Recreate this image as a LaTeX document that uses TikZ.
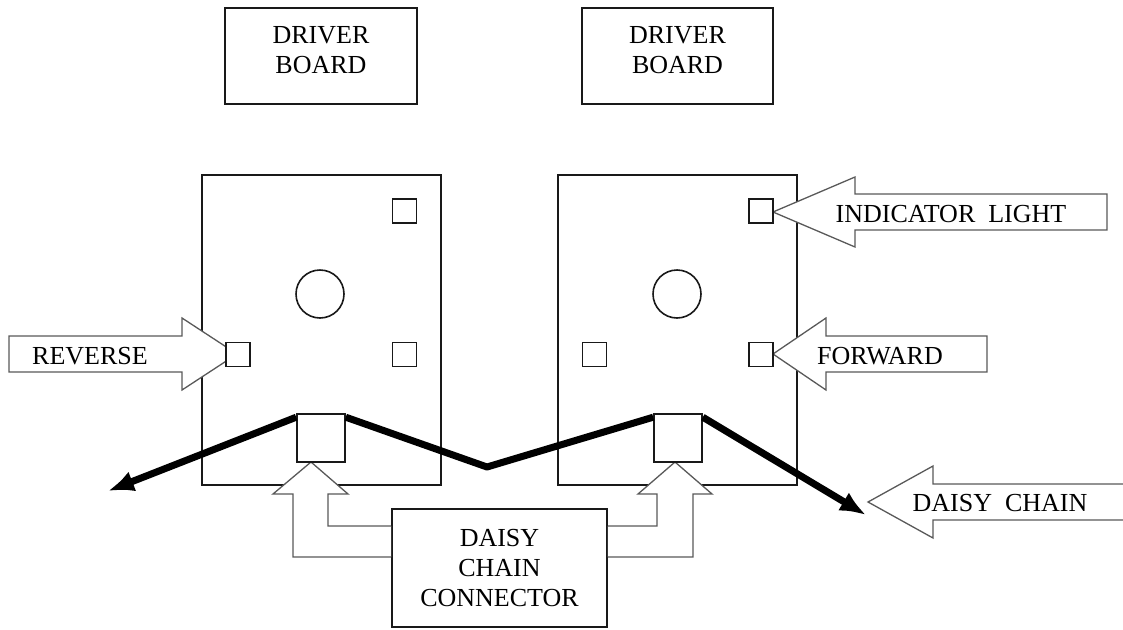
\documentclass[tikz,border=0pt]{standalone}
\usepackage{fontspec}
\setmainfont{Liberation Serif}
\usetikzlibrary{arrows.meta}
\begin{document}
\begin{tikzpicture}[x=1pt,y=-1pt,
  box/.style={draw=black!90,line width=1.6pt,inner sep=0pt},
  lbl/.style={font=\fontsize{26}{30}\selectfont,align=center,inner sep=0pt},
  sq/.style={box,minimum size=24pt,fill=white},
  conn/.style={box,minimum size=48pt,fill=white},
  blk/.style={draw=black!65,line width=1.3pt,fill=white,line join=miter},
  blkline/.style={draw=black!65,line width=1.3pt,line join=miter},
  chain/.style={line width=7pt,line join=round}]
\useasboundingbox (0,0) rectangle (1123,629);
\clip (0,0) rectangle (1123,629);
% driver board labels
\node[box,minimum width=192pt,minimum height=96pt] (dbL) at (321,56) {};
\node[lbl] (dbLt) at (321,50) {DRIVER\\BOARD};
\node[box,minimum width=191pt,minimum height=96pt] (dbR) at (677.5,56) {};
\node[lbl] (dbRt) at (677.5,50) {DRIVER\\BOARD};
% boards
\node[box,minimum width=239pt,minimum height=310pt] (bL) at (321.5,330) {};
\node[box,minimum width=239pt,minimum height=310pt] (bR) at (677.5,330) {};
\node[box,circle,minimum size=48pt] (cL) at (320,294) {};
\node[box,circle,minimum size=48pt] (cR) at (677,294) {};
% block arrows
\draw[blk] (9,336) -- (182,336) -- (182,318) -- (237,354) -- (182,390) -- (182,372) -- (9,372) -- cycle;
\node[lbl] (trev) at (90,356) {REVERSE};
\draw[blk] (1107,194) -- (855,194) -- (855,177) -- (773,212) -- (855,247) -- (855,230) -- (1107,230) -- cycle;
\node[lbl] (tind) at (951,214) {INDICATOR\hspace{13pt}LIGHT};
\draw[blk] (987,336) -- (826,336) -- (826,318) -- (773,354) -- (826,390) -- (826,372) -- (987,372) -- cycle;
\node[lbl] (tfwd) at (880,356.5) {FORWARD};
\draw[blk] (1130,484) -- (933,484) -- (933,466) -- (868,502) -- (933,538) -- (933,520) -- (1130,520) -- cycle;
\node[lbl] (tdc) at (1000,503.5) {DAISY\hspace{13pt}CHAIN};
% small squares
\node[sq] (sqL1) at (404.5,211) {};
\node[sq] (sqL2) at (404.5,354.5) {};
\node[sq] (sqL3) at (238,354.5) {};
\node[sq] (sqR1) at (761,211) {};
\node[sq] (sqR2) at (761,354.5) {};
\node[sq] (sqR3) at (594.5,354.5) {};
% daisy chain connector box
\node[box,minimum width=215pt,minimum height=118pt,lbl] (dcc) at (499.5,568) {DAISY\\CHAIN\\CONNECTOR};
% elbow block arrows
\fill[white] (dcc.west |- 0,526) -- (328,526) -- (328,494) -- (348,494) -- (311,462) -- (273,494) -- (293,494) -- (293,557) -- (dcc.west |- 0,557) -- cycle;
\draw[blkline] (dcc.west |- 0,526) -- (328,526) -- (328,494) -- (348,494) -- (311,462) -- (273,494) -- (293,494) -- (293,557) -- (dcc.west |- 0,557);
\fill[white] (dcc.east |- 0,526) -- (657,526) -- (657,494) -- (638,494) -- (675,462) -- (712,494) -- (693,494) -- (693,557) -- (dcc.east |- 0,557) -- cycle;
\draw[blkline] (dcc.east |- 0,526) -- (657,526) -- (657,494) -- (638,494) -- (675,462) -- (712,494) -- (693,494) -- (693,557) -- (dcc.east |- 0,557);
% connectors
\node[conn] (cnL) at (321,438) {};
\node[conn] (cnR) at (678,438) {};
% chain
\coordinate (endL) at (108,491);
\coordinate (valley) at (487,467);
\coordinate (endR) at (866,515);
\draw[chain,{Latex[length=26pt,width=21pt]}-] (endL) -- ([yshift=-4pt]cnL.north west);
\draw[chain] ([yshift=-4pt]cnL.north east) -- (valley) -- ([yshift=-4pt]cnR.north west);
\draw[chain,-{Latex[length=26pt,width=21pt]}] ([yshift=-4pt]cnR.north east) -- (endR);
\end{tikzpicture}
\end{document}
